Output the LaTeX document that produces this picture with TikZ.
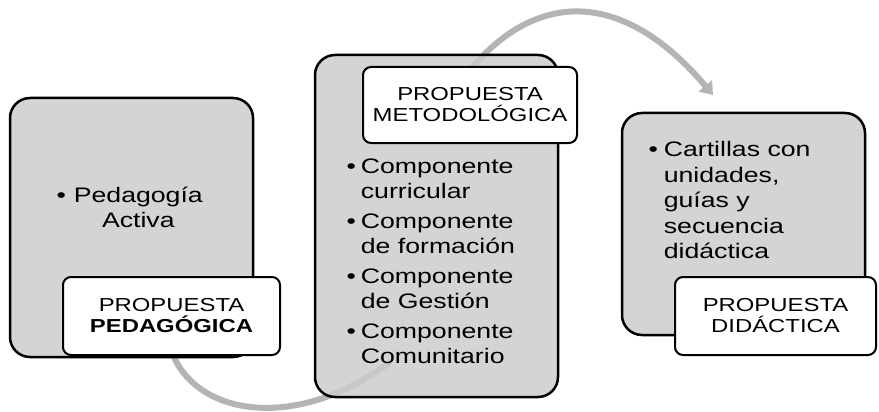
\documentclass[tikz,border=0pt]{standalone}
\usepackage{fontspec}
\setmainfont{Liberation Sans}[FakeStretch=1.27]
\usetikzlibrary{arrows.meta,backgrounds}
\definecolor{boxgray}{HTML}{CCCCCC}
\definecolor{arcgray}{HTML}{B4B4B8}
\begin{document}
\begin{tikzpicture}[x=1pt,y=-1pt,
  bigbox/.style={draw=black, line width=2.5pt, fill=boxgray, fill opacity=0.85, draw opacity=1,
                 rounded corners=20pt, minimum width=243pt, inner sep=0pt},
  labelbox/.style={draw=black, line width=2pt, fill=white, rounded corners=8pt, inner sep=0pt,
                   align=center, font=\fontsize{18.8}{21}\selectfont},
  bodytext/.style={font=\fontsize{21}{25.5}\selectfont, inner sep=0pt, anchor=base west},
  flow/.style={draw=arcgray, line width=6pt}
]
\useasboundingbox (0,0) rectangle (879,412);

% arcs (behind)
\coordinate (b1) at (173,355);
\coordinate (b2) at (390,362);
\coordinate (t1) at (462,80);
\coordinate (t2) at (713,95);
\draw[flow] (b1) .. controls (200,418) and (300,430) .. (b2);
\draw[flow, -{Triangle[width=17pt,length=12pt]}] (t1) .. controls (530,-10) and (620,-15) .. (t2);

% left
\node[bigbox, minimum height=259pt] (leftbox) at (131.5,227.5) {};
\node[bodytext] (lefttext) at (56.3,202)
  {\begin{tabular}[t]{@{}l@{\hspace{8pt}}c@{}}•&Pedagogía\\&Activa\end{tabular}};
\node[labelbox, minimum width=217pt, minimum height=78pt] (leftlabel) at (171.5,316)
  {PROPUESTA\\\textbf{PEDAGÓGICA}};

% middle
\node[bigbox, minimum height=342pt] (midbox) at (436.5,226) {};
\node[labelbox, minimum width=214pt, minimum height=76pt] (midlabel) at (470,105)
  {PROPUESTA\\METODOLÓGICA};
\node[bodytext] (midtext) at (346.3,173.3)
  {\begin{tabular}[t]{@{}l@{\hspace{5pt}}l@{}}
   •&Componente\\&curricular\\[4pt]
   •&Componente\\&de formación\\[4pt]
   •&Componente\\&de Gestión\\[4pt]
   •&Componente\\&Comunitario
   \end{tabular}};

% right
\node[bigbox, minimum height=222pt] (rightbox) at (743.5,224) {};
\node[bodytext] (righttext) at (648.3,156.7)
  {\begin{tabular}[t]{@{}l@{\hspace{6pt}}l@{}}
   •&Cartillas con\\&unidades,\\&guías y\\&secuencia\\&didáctica
   \end{tabular}};
\node[labelbox, minimum width=201pt, minimum height=78pt] (rightlabel) at (775.5,316)
  {PROPUESTA\\DIDÁCTICA};
\end{tikzpicture}
\end{document}
